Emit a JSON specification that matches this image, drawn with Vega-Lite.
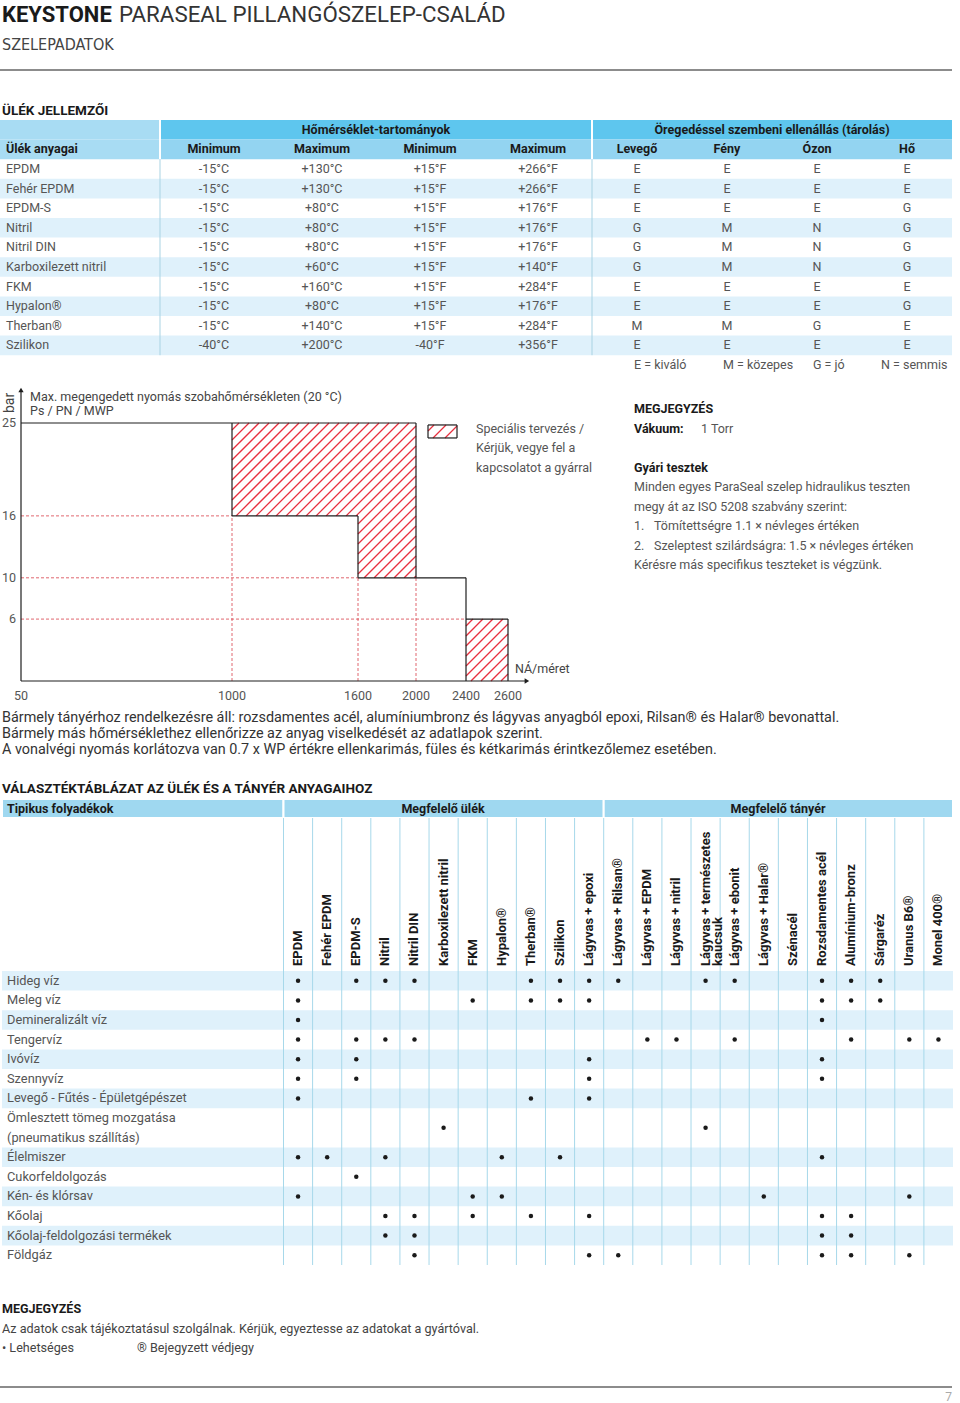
{
"$schema": "https://vega.github.io/schema/vega-lite/v6.json",
"width": 960, "height": 1403, "padding": 0, "autosize": {"type": "none"},
"background": "#ffffff",
"config": {"view": {"stroke": null}, "text": {"font": "Roboto"}},
"resolve": {"scale": {"x": "independent", "y": "independent", "color": "independent", "shape": "independent"}},
"datasets": {
 "title": [{"line":1,"tab":0,"t":"KEYSTONE"},{"line":1,"tab":1,"t":"PARASEAL PILLANGÓSZELEP-CSALÁD"},{"line":2,"tab":0,"t":"SZELEPADATOK"}],
 "pageRules": [{"pos":"top"},{"pos":"bottom"}],
 "headings": [{"h":"ÜLÉK JELLEMZŐI"},{"h":"VÁLASZTÉKTÁBLÁZAT AZ ÜLÉK ÉS A TÁNYÉR ANYAGAIHOZ"}],
 "t1": [
  {"m":"EPDM","tminC":"-15°C","tmaxC":"+130°C","tminF":"+15°F","tmaxF":"+266°F","air":"E","light":"E","ozone":"E","heat":"E"},
  {"m":"Fehér EPDM","tminC":"-15°C","tmaxC":"+130°C","tminF":"+15°F","tmaxF":"+266°F","air":"E","light":"E","ozone":"E","heat":"E"},
  {"m":"EPDM-S","tminC":"-15°C","tmaxC":"+80°C","tminF":"+15°F","tmaxF":"+176°F","air":"E","light":"E","ozone":"E","heat":"G"},
  {"m":"Nitril","tminC":"-15°C","tmaxC":"+80°C","tminF":"+15°F","tmaxF":"+176°F","air":"G","light":"M","ozone":"N","heat":"G"},
  {"m":"Nitril DIN","tminC":"-15°C","tmaxC":"+80°C","tminF":"+15°F","tmaxF":"+176°F","air":"G","light":"M","ozone":"N","heat":"G"},
  {"m":"Karboxilezett nitril","tminC":"-15°C","tmaxC":"+60°C","tminF":"+15°F","tmaxF":"+140°F","air":"G","light":"M","ozone":"N","heat":"G"},
  {"m":"FKM","tminC":"-15°C","tmaxC":"+160°C","tminF":"+15°F","tmaxF":"+284°F","air":"E","light":"E","ozone":"E","heat":"E"},
  {"m":"Hypalon®","tminC":"-15°C","tmaxC":"+80°C","tminF":"+15°F","tmaxF":"+176°F","air":"E","light":"E","ozone":"E","heat":"G"},
  {"m":"Therban®","tminC":"-15°C","tmaxC":"+140°C","tminF":"+15°F","tmaxF":"+284°F","air":"M","light":"M","ozone":"G","heat":"E"},
  {"m":"Szilikon","tminC":"-40°C","tmaxC":"+200°C","tminF":"-40°F","tmaxF":"+356°F","air":"E","light":"E","ozone":"E","heat":"E"}
 ],
 "t1cells": [{"row":"h1","c0":0,"c1":1,"part":"name"},{"row":"h2","c0":0,"c1":1,"part":"name"},{"row":"h1","c0":1,"c1":9,"part":"group"},{"row":"h2","c0":1,"c1":9,"part":"cols"}],
 "t1seps": [{"b":1},{"b":5}],
 "t1groups": [{"g":"temp","label":"Hőmérséklet-tartományok"},{"g":"aging","label":"Öregedéssel szembeni ellenállás (tárolás)"}],
 "t1h2": [{"col":"name","label":"Ülék anyagai"},{"col":"tminC","label":"Minimum"},{"col":"tmaxC","label":"Maximum"},{"col":"tminF","label":"Minimum"},{"col":"tmaxF","label":"Maximum"},{"col":"air","label":"Levegő"},{"col":"light","label":"Fény"},{"col":"ozone","label":"Ózon"},{"col":"heat","label":"Hő"}],
 "t1legend": [{"k":1,"t":"E = kiváló"},{"k":2,"t":"M = közepes"},{"k":3,"t":"G = jó"},{"k":4,"t":"N = semmis"}],
 "hatch": [
  {"x":1000,"y":24.32,"x2":1033.3,"y2":25},{"x":1000,"y":23.35,"x2":1081.0,"y2":25},
  {"x":1000,"y":22.38,"x2":1128.6,"y2":25},{"x":1000,"y":21.41,"x2":1176.2,"y2":25},
  {"x":1000,"y":20.45,"x2":1223.8,"y2":25},{"x":1000,"y":19.48,"x2":1271.4,"y2":25},
  {"x":1000,"y":18.51,"x2":1319.0,"y2":25},{"x":1000,"y":17.54,"x2":1366.7,"y2":25},
  {"x":1000,"y":16.57,"x2":1414.3,"y2":25},{"x":1019.5,"y":16,"x2":1461.9,"y2":25},
  {"x":1067.1,"y":16,"x2":1509.5,"y2":25},{"x":1114.8,"y":16,"x2":1557.1,"y2":25},
  {"x":1162.4,"y":16,"x2":1606.9,"y2":25},{"x":1210.0,"y":16,"x2":1675.9,"y2":25},
  {"x":1257.6,"y":16,"x2":1744.8,"y2":25},{"x":1305.2,"y":16,"x2":1813.8,"y2":25},
  {"x":1352.9,"y":16,"x2":1882.8,"y2":25},{"x":1400.5,"y":16,"x2":1951.7,"y2":25},
  {"x":1448.1,"y":16,"x2":2000,"y2":24.71},{"x":1495.7,"y":16,"x2":2000,"y2":23.74},
  {"x":1543.3,"y":16,"x2":2000,"y2":22.77},{"x":1591.0,"y":16,"x2":2000,"y2":21.80},
  {"x":1600,"y":15.21,"x2":2000,"y2":20.83},{"x":1600,"y":14.24,"x2":2000,"y2":19.86},
  {"x":1600,"y":13.28,"x2":2000,"y2":18.90},{"x":1600,"y":12.31,"x2":2000,"y2":17.93},
  {"x":1600,"y":11.34,"x2":2000,"y2":16.96},{"x":1600,"y":10.37,"x2":2000,"y2":15.99},
  {"x":1642.8,"y":10,"x2":2000,"y2":15.02},{"x":1711.7,"y":10,"x2":2000,"y2":14.05},
  {"x":1780.7,"y":10,"x2":2000,"y2":13.08},{"x":1849.7,"y":10,"x2":2000,"y2":12.11},
  {"x":1918.6,"y":10,"x2":2000,"y2":11.14},{"x":1987.6,"y":10,"x2":2000,"y2":10.17},
  {"x":2400,"y":5.33,"x2":2432.9,"y2":6},{"x":2400,"y":4.36,"x2":2480.5,"y2":6},
  {"x":2400,"y":3.39,"x2":2528.1,"y2":6},{"x":2400,"y":2.42,"x2":2575.7,"y2":6},
  {"x":2400,"y":1.45,"x2":2600,"y2":5.52},{"x":2400,"y":0.48,"x2":2600,"y2":4.55},
  {"x":2423.8,"y":0,"x2":2600,"y2":3.59},{"x":2471.4,"y":0,"x2":2600,"y2":2.62},
  {"x":2519.0,"y":0,"x2":2600,"y2":1.65},{"x":2566.7,"y":0,"x2":2600,"y2":0.68},
  {"x":2096,"y":24.22,"x2":2144,"y2":24.81},{"x":2136,"y":23.55,"x2":2240,"y2":24.81},
  {"x":2232,"y":23.55,"x2":2328,"y2":24.71}
 ],
 "guides": [
  {"x":50,"y":16,"x2":1000,"y2":16},{"x":50,"y":10,"x2":1600,"y2":10},
  {"x":50,"y":6,"x2":2400,"y2":6},{"x":1000,"y":0,"x2":1000,"y2":16},
  {"x":1600,"y":0,"x2":1600,"y2":10},{"x":2000,"y":0,"x2":2000,"y2":10}
 ],
 "outline": [
  {"x":50,"y":0,"x2":50,"y2":28},{"x":50,"y":0,"x2":2690,"y2":0},
  {"x":50,"y":25,"x2":2000,"y2":25},{"x":2000,"y":10,"x2":2000,"y2":25},
  {"x":2000,"y":10,"x2":2400,"y2":10},{"x":2400,"y":0,"x2":2400,"y2":10},
  {"x":2400,"y":6,"x2":2600,"y2":6},{"x":2600,"y":0,"x2":2600,"y2":6},
  {"x":1000,"y":16,"x2":1000,"y2":25},{"x":1000,"y":16,"x2":1600,"y2":16},
  {"x":1600,"y":10,"x2":1600,"y2":16},{"x":1600,"y":10,"x2":2000,"y2":10},
  {"x":2096,"y":23.55,"x2":2328,"y2":23.55},{"x":2096,"y":24.81,"x2":2328,"y2":24.81},
  {"x":2096,"y":23.55,"x2":2096,"y2":24.81},{"x":2328,"y":23.55,"x2":2328,"y2":24.81}
 ],
 "arrows": [{"x":50,"y":28.2,"dir":"up"},{"x":2690,"y":0,"dir":"right"}],
 "yticks": [{"v":25},{"v":16},{"v":10},{"v":6}],
 "xticks": [{"v":50},{"v":1000},{"v":1600},{"v":2000},{"v":2400},{"v":2600}],
 "chartNotes": [{"x":90.5,"y":27.52,"t":"Max. megengedett nyomás szobahőmérsékleten (20 °C)"},{"x":90.5,"y":26.16,"t":"Ps / PN / MWP"},{"x":2633,"y":1.16,"t":"NÁ/méret"}],
 "barLabel": [{"t":"bar"}],
 "notesBold": [{"line":1,"tab":0,"t":"MEGJEGYZÉS"},{"line":2,"tab":0,"t":"Vákuum:"},{"line":4,"tab":0,"t":"Gyári tesztek"}],
 "notesText": [{"line":2,"tab":-1,"t":"Speciális tervezés /"},{"line":3,"tab":-1,"t":"Kérjük, vegye fel a"},{"line":4,"tab":-1,"t":"kapcsolatot a gyárral"},{"line":2,"tab":2,"t":"1 Torr"},{"line":5,"tab":0,"t":"Minden egyes ParaSeal szelep hidraulikus teszten"},{"line":6,"tab":0,"t":"megy át az ISO 5208 szabvány szerint:"},{"line":7,"tab":0,"t":"1."},{"line":7,"tab":1,"t":"Tömítettségre 1.1 × névleges értéken"},{"line":8,"tab":0,"t":"2."},{"line":8,"tab":1,"t":"Szeleptest szilárdságra: 1.5 × névleges értéken"},{"line":9,"tab":0,"t":"Kérésre más specifikus teszteket is végzünk."}],
 "para": [{"line":1,"t":"Bármely tányérhoz rendelkezésre áll: rozsdamentes acél, alumíniumbronz és lágyvas anyagból epoxi, Rilsan® és Halar® bevonattal."},{"line":2,"t":"Bármely más hőmérséklethez ellenőrizze az anyag viselkedését az adatlapok szerint."},{"line":3,"t":"A vonalvégi nyomás korlátozva van 0.7 x WP értékre ellenkarimás, füles és kétkarimás érintkezőlemez esetében."}],
 "t2groups": [{"label":"Tipikus folyadékok","c0":0,"c1":1},{"label":"Megfelelő ülék","c0":1,"c1":12},{"label":"Megfelelő tányér","c0":12,"c1":24}],
 "t2cols": [{"c":"EPDM","lab":"EPDM"},{"c":"Fehér EPDM","lab":"Fehér EPDM"},{"c":"EPDM-S","lab":"EPDM-S"},{"c":"Nitril","lab":"Nitril"},{"c":"Nitril DIN","lab":"Nitril DIN"},{"c":"Karboxilezett nitril","lab":"Karboxilezett nitril"},{"c":"FKM","lab":"FKM"},{"c":"Hypalon®","lab":"Hypalon®"},{"c":"Therban®","lab":"Therban®"},{"c":"Szilikon","lab":"Szilikon"},{"c":"Lágyvas + epoxi","lab":"Lágyvas + epoxi"},{"c":"Lágyvas + Rilsan®","lab":"Lágyvas + Rilsan®"},{"c":"Lágyvas + EPDM","lab":"Lágyvas + EPDM"},{"c":"Lágyvas + nitril","lab":"Lágyvas + nitril"},{"c":"Lágyvas + természetes kaucsuk","lab":["Lágyvas + természetes","kaucsuk"]},{"c":"Lágyvas + ebonit","lab":"Lágyvas + ebonit"},{"c":"Lágyvas + Halar®","lab":"Lágyvas + Halar®"},{"c":"Szénacél","lab":"Szénacél"},{"c":"Rozsdamentes acél","lab":"Rozsdamentes acél"},{"c":"Alumínium-bronz","lab":"Alumínium-bronz"},{"c":"Sárgaréz","lab":"Sárgaréz"},{"c":"Uranus B6®","lab":"Uranus B6®"},{"c":"Monel 400®","lab":"Monel 400®"}],
 "t2rows": [{"slot":"Hideg víz"},{"slot":"Meleg víz"},{"slot":"Demineralizált víz"},{"slot":"Tengervíz"},{"slot":"Ivóvíz"},{"slot":"Szennyvíz"},{"slot":"Levegő - Fűtés - Épületgépészet"},{"slot":"Ömlesztett tömeg mozgatása"},{"slot":"(pneumatikus szállítás)"},{"slot":"Élelmiszer"},{"slot":"Cukorfeldolgozás"},{"slot":"Kén- és klórsav"},{"slot":"Kőolaj"},{"slot":"Kőolaj-feldolgozási termékek"},{"slot":"Földgáz"}],
 "t2dots": [
  {"f":"Hideg víz","c":"EPDM"},{"f":"Hideg víz","c":"EPDM-S"},{"f":"Hideg víz","c":"Nitril"},{"f":"Hideg víz","c":"Nitril DIN"},{"f":"Hideg víz","c":"Therban®"},{"f":"Hideg víz","c":"Szilikon"},{"f":"Hideg víz","c":"Lágyvas + epoxi"},{"f":"Hideg víz","c":"Lágyvas + Rilsan®"},{"f":"Hideg víz","c":"Lágyvas + természetes kaucsuk"},{"f":"Hideg víz","c":"Lágyvas + ebonit"},{"f":"Hideg víz","c":"Rozsdamentes acél"},{"f":"Hideg víz","c":"Alumínium-bronz"},{"f":"Hideg víz","c":"Sárgaréz"},
  {"f":"Meleg víz","c":"EPDM"},{"f":"Meleg víz","c":"FKM"},{"f":"Meleg víz","c":"Therban®"},{"f":"Meleg víz","c":"Szilikon"},{"f":"Meleg víz","c":"Lágyvas + epoxi"},{"f":"Meleg víz","c":"Rozsdamentes acél"},{"f":"Meleg víz","c":"Alumínium-bronz"},{"f":"Meleg víz","c":"Sárgaréz"},
  {"f":"Demineralizált víz","c":"EPDM"},{"f":"Demineralizált víz","c":"Rozsdamentes acél"},
  {"f":"Tengervíz","c":"EPDM"},{"f":"Tengervíz","c":"EPDM-S"},{"f":"Tengervíz","c":"Nitril"},{"f":"Tengervíz","c":"Nitril DIN"},{"f":"Tengervíz","c":"Lágyvas + EPDM"},{"f":"Tengervíz","c":"Lágyvas + nitril"},{"f":"Tengervíz","c":"Lágyvas + ebonit"},{"f":"Tengervíz","c":"Alumínium-bronz"},{"f":"Tengervíz","c":"Uranus B6®"},{"f":"Tengervíz","c":"Monel 400®"},
  {"f":"Ivóvíz","c":"EPDM"},{"f":"Ivóvíz","c":"EPDM-S"},{"f":"Ivóvíz","c":"Lágyvas + epoxi"},{"f":"Ivóvíz","c":"Rozsdamentes acél"},
  {"f":"Szennyvíz","c":"EPDM"},{"f":"Szennyvíz","c":"EPDM-S"},{"f":"Szennyvíz","c":"Lágyvas + epoxi"},{"f":"Szennyvíz","c":"Rozsdamentes acél"},
  {"f":"Levegő - Fűtés - Épületgépészet","c":"EPDM"},{"f":"Levegő - Fűtés - Épületgépészet","c":"Therban®"},{"f":"Levegő - Fűtés - Épületgépészet","c":"Lágyvas + epoxi"},
  {"f":"Ömlesztett tömeg mozgatása","c":"Karboxilezett nitril"},{"f":"Ömlesztett tömeg mozgatása","c":"Lágyvas + természetes kaucsuk"},
  {"f":"Élelmiszer","c":"EPDM"},{"f":"Élelmiszer","c":"Fehér EPDM"},{"f":"Élelmiszer","c":"Nitril"},{"f":"Élelmiszer","c":"Hypalon®"},{"f":"Élelmiszer","c":"Szilikon"},{"f":"Élelmiszer","c":"Rozsdamentes acél"},
  {"f":"Cukorfeldolgozás","c":"EPDM-S"},
  {"f":"Kén- és klórsav","c":"EPDM"},{"f":"Kén- és klórsav","c":"FKM"},{"f":"Kén- és klórsav","c":"Hypalon®"},{"f":"Kén- és klórsav","c":"Lágyvas + Halar®"},{"f":"Kén- és klórsav","c":"Uranus B6®"},
  {"f":"Kőolaj","c":"Nitril"},{"f":"Kőolaj","c":"Nitril DIN"},{"f":"Kőolaj","c":"FKM"},{"f":"Kőolaj","c":"Therban®"},{"f":"Kőolaj","c":"Lágyvas + epoxi"},{"f":"Kőolaj","c":"Rozsdamentes acél"},{"f":"Kőolaj","c":"Alumínium-bronz"},
  {"f":"Kőolaj-feldolgozási termékek","c":"Nitril"},{"f":"Kőolaj-feldolgozási termékek","c":"Nitril DIN"},{"f":"Kőolaj-feldolgozási termékek","c":"Rozsdamentes acél"},{"f":"Kőolaj-feldolgozási termékek","c":"Alumínium-bronz"},
  {"f":"Földgáz","c":"Nitril DIN"},{"f":"Földgáz","c":"Lágyvas + epoxi"},{"f":"Földgáz","c":"Lágyvas + Rilsan®"},{"f":"Földgáz","c":"Rozsdamentes acél"},{"f":"Földgáz","c":"Alumínium-bronz"},{"f":"Földgáz","c":"Uranus B6®"}
 ],
 "footer": [{"line":1,"tab":0,"t":"MEGJEGYZÉS"},{"line":2,"tab":0,"t":"Az adatok csak tájékoztatásul szolgálnak. Kérjük, egyeztesse az adatokat a gyártóval."},{"line":3,"tab":0,"t":"• Lehetséges"},{"line":3,"tab":1,"t":"® Bejegyzett védjegy"}],
 "pageNo": [{"p":"7"}]
},
"layer": [
 {"data":{"name":"t1"},"transform":[{"filter":{"field":"m","oneOf":["Fehér EPDM","Nitril","Karboxilezett nitril","Hypalon®","Szilikon"]}}],
  "mark":{"type":"rect","color":"#dff1fb"},
  "encoding":{"x":{"datum":0,"type":"quantitative","scale":{"type":"linear","domain":[0,1,5,9],"range":[0,160,592,952],"zero":false,"nice":false},"axis":null},"x2":{"datum":9},
   "y":{"field":"m","type":"nominal","scale":{"type":"band","domain":["h1","h2","EPDM","Fehér EPDM","EPDM-S","Nitril","Nitril DIN","Karboxilezett nitril","FKM","Hypalon®","Therban®","Szilikon","legend"],"range":[120,374.8],"paddingInner":0,"paddingOuter":0},"axis":null}}},
 {"data":{"name":"t1cells"},"mark":{"type":"rect"},
  "encoding":{"x":{"field":"c0","type":"quantitative","scale":{"type":"linear","domain":[0,1,5,9],"range":[0,160,592,952],"zero":false,"nice":false},"axis":null},"x2":{"field":"c1"},
   "y":{"field":"row","type":"nominal","scale":{"type":"band","domain":["h1","h2","EPDM","Fehér EPDM","EPDM-S","Nitril","Nitril DIN","Karboxilezett nitril","FKM","Hypalon®","Therban®","Szilikon","legend"],"range":[120,374.8],"paddingInner":0,"paddingOuter":0},"axis":null},
   "color":{"field":"part","type":"nominal","scale":{"domain":["name","group","cols"],"range":["#a8dcf3","#5ec6ee","#93d4f1"]},"legend":null}}},
 {"data":{"name":"t1seps"},"mark":{"type":"rule","color":"#ffffff","strokeWidth":2},
  "encoding":{"x":{"field":"b","type":"quantitative","scale":{"type":"linear","domain":[0,1,5,9],"range":[0,160,592,952],"zero":false,"nice":false},"axis":null},
   "y":{"datum":0,"type":"quantitative","scale":{"type":"linear","domain":[0,13],"range":[120,374.8],"zero":false,"nice":false},"axis":null},"y2":{"datum":2}}},
 {"data":{"name":"t1seps"},"mark":{"type":"rule","color":"#a9d3e3","strokeWidth":1},
  "encoding":{"x":{"field":"b","type":"quantitative","scale":{"type":"linear","domain":[0,1,5,9],"range":[0,160,592,952],"zero":false,"nice":false},"axis":null},
   "y":{"datum":2,"type":"quantitative","scale":{"type":"linear","domain":[0,13],"range":[120,374.8],"zero":false,"nice":false},"axis":null},"y2":{"datum":12}}},
 {"data":{"name":"t1groups"},"mark":{"type":"text","font":"Roboto","fontWeight":"bold","fontSize":12.5,"color":"#1a1a1a","baseline":"middle"},
  "encoding":{"x":{"field":"g","type":"nominal","scale":{"type":"point","domain":["temp","aging"],"range":[376,772],"padding":0},"axis":null},
   "y":{"datum":"h1","type":"nominal","scale":{"type":"band","domain":["h1","h2","EPDM","Fehér EPDM","EPDM-S","Nitril","Nitril DIN","Karboxilezett nitril","FKM","Hypalon®","Therban®","Szilikon","legend"],"range":[120,374.8],"paddingInner":0,"paddingOuter":0},"axis":null},
   "text":{"field":"label"}}},
 {"data":{"name":"t1h2"},"transform":[{"filter":{"field":"col","oneOf":["tminC","tmaxC","tminF","tmaxF"]}}],
  "mark":{"type":"text","font":"Roboto","fontWeight":"bold","fontSize":12.5,"color":"#1a1a1a","baseline":"middle"},
  "encoding":{"x":{"field":"col","type":"nominal","scale":{"type":"band","domain":["tminC","tmaxC","tminF","tmaxF"],"range":[160,592],"paddingInner":0,"paddingOuter":0},"axis":null},
   "y":{"datum":"h2","type":"nominal","scale":{"type":"band","domain":["h1","h2","EPDM","Fehér EPDM","EPDM-S","Nitril","Nitril DIN","Karboxilezett nitril","FKM","Hypalon®","Therban®","Szilikon","legend"],"range":[120,374.8],"paddingInner":0,"paddingOuter":0},"axis":null},
   "text":{"field":"label"}}},
 {"data":{"name":"t1h2"},"transform":[{"filter":{"field":"col","oneOf":["air","light","ozone","heat"]}}],
  "mark":{"type":"text","font":"Roboto","fontWeight":"bold","fontSize":12.5,"color":"#1a1a1a","baseline":"middle"},
  "encoding":{"x":{"field":"col","type":"nominal","scale":{"type":"band","domain":["air","light","ozone","heat"],"range":[592,952],"paddingInner":0,"paddingOuter":0},"axis":null},
   "y":{"datum":"h2","type":"nominal","scale":{"type":"band","domain":["h1","h2","EPDM","Fehér EPDM","EPDM-S","Nitril","Nitril DIN","Karboxilezett nitril","FKM","Hypalon®","Therban®","Szilikon","legend"],"range":[120,374.8],"paddingInner":0,"paddingOuter":0},"axis":null},
   "text":{"field":"label"}}},
 {"data":{"name":"t1h2"},"transform":[{"filter":{"field":"col","equal":"name"}}],
  "mark":{"type":"text","font":"Roboto","fontWeight":"bold","fontSize":12.5,"color":"#1a1a1a","baseline":"middle","align":"left","dx":6},
  "encoding":{"x":{"datum":0,"type":"quantitative","scale":{"type":"linear","domain":[0,1,5,9],"range":[0,160,592,952],"zero":false,"nice":false},"axis":null},
   "y":{"datum":"h2","type":"nominal","scale":{"type":"band","domain":["h1","h2","EPDM","Fehér EPDM","EPDM-S","Nitril","Nitril DIN","Karboxilezett nitril","FKM","Hypalon®","Therban®","Szilikon","legend"],"range":[120,374.8],"paddingInner":0,"paddingOuter":0},"axis":null},
   "text":{"field":"label"}}},
 {"data":{"name":"t1"},
  "mark":{"type":"text","font":"Roboto","fontSize":12.5,"color":"#555555","baseline":"middle","align":"left","dx":6},
  "encoding":{"x":{"datum":0,"type":"quantitative","scale":{"type":"linear","domain":[0,1,5,9],"range":[0,160,592,952],"zero":false,"nice":false},"axis":null},
   "y":{"field":"m","type":"nominal","scale":{"type":"band","domain":["h1","h2","EPDM","Fehér EPDM","EPDM-S","Nitril","Nitril DIN","Karboxilezett nitril","FKM","Hypalon®","Therban®","Szilikon","legend"],"range":[120,374.8],"paddingInner":0,"paddingOuter":0},"axis":null},
   "text":{"field":"m"}}},
 {"data":{"name":"t1"},"transform":[{"fold":["tminC","tmaxC","tminF","tmaxF"],"as":["col","v"]}],
  "mark":{"type":"text","font":"Roboto","fontSize":12.5,"color":"#555555","baseline":"middle"},
  "encoding":{"x":{"field":"col","type":"nominal","scale":{"type":"band","domain":["tminC","tmaxC","tminF","tmaxF"],"range":[160,592],"paddingInner":0,"paddingOuter":0},"axis":null},
   "y":{"field":"m","type":"nominal","scale":{"type":"band","domain":["h1","h2","EPDM","Fehér EPDM","EPDM-S","Nitril","Nitril DIN","Karboxilezett nitril","FKM","Hypalon®","Therban®","Szilikon","legend"],"range":[120,374.8],"paddingInner":0,"paddingOuter":0},"axis":null},
   "text":{"field":"v"}}},
 {"data":{"name":"t1"},"transform":[{"fold":["air","light","ozone","heat"],"as":["col","v"]}],
  "mark":{"type":"text","font":"Roboto","fontSize":12.5,"color":"#555555","baseline":"middle"},
  "encoding":{"x":{"field":"col","type":"nominal","scale":{"type":"band","domain":["air","light","ozone","heat"],"range":[592,952],"paddingInner":0,"paddingOuter":0},"axis":null},
   "y":{"field":"m","type":"nominal","scale":{"type":"band","domain":["h1","h2","EPDM","Fehér EPDM","EPDM-S","Nitril","Nitril DIN","Karboxilezett nitril","FKM","Hypalon®","Therban®","Szilikon","legend"],"range":[120,374.8],"paddingInner":0,"paddingOuter":0},"axis":null},
   "text":{"field":"v"}}},
 {"data":{"name":"t1legend"},
  "mark":{"type":"text","font":"Roboto","fontSize":12.5,"color":"#555555","baseline":"middle","align":"left"},
  "encoding":{"x":{"field":"k","type":"quantitative","scale":{"type":"linear","domain":[1,2,3,4],"range":[634,723,813,881],"zero":false,"nice":false},"axis":null},
   "y":{"datum":"legend","type":"nominal","scale":{"type":"band","domain":["h1","h2","EPDM","Fehér EPDM","EPDM-S","Nitril","Nitril DIN","Karboxilezett nitril","FKM","Hypalon®","Therban®","Szilikon","legend"],"range":[120,374.8],"paddingInner":0,"paddingOuter":0},"axis":null},
   "text":{"field":"t"}}},
 {"data":{"name":"title"},"transform":[{"filter":"datum.line == 1 && datum.tab == 0"}],
  "mark":{"type":"text","font":"Roboto","fontWeight":"bold","fontSize":22,"color":"#1a1a1a","baseline":"middle","align":"left"},
  "encoding":{"x":{"field":"tab","type":"quantitative","scale":{"type":"linear","domain":[0,1],"range":[2,119],"zero":false,"nice":false},"axis":null},
   "y":{"field":"line","type":"quantitative","scale":{"type":"linear","domain":[1,2],"range":[15,45],"zero":false,"nice":false},"axis":null},"text":{"field":"t"}}},
 {"data":{"name":"title"},"transform":[{"filter":"datum.line == 1 && datum.tab == 1"}],
  "mark":{"type":"text","font":"Roboto","fontSize":22.3,"color":"#333333","baseline":"middle","align":"left"},
  "encoding":{"x":{"field":"tab","type":"quantitative","scale":{"type":"linear","domain":[0,1],"range":[2,119],"zero":false,"nice":false},"axis":null},
   "y":{"field":"line","type":"quantitative","scale":{"type":"linear","domain":[1,2],"range":[15,45],"zero":false,"nice":false},"axis":null},"text":{"field":"t"}}},
 {"data":{"name":"title"},"transform":[{"filter":"datum.line == 2"}],
  "mark":{"type":"text","font":"DejaVu Sans Condensed, Liberation Sans Narrow, Roboto","fontSize":16,"color":"#444444","baseline":"middle","align":"left"},
  "encoding":{"x":{"field":"tab","type":"quantitative","scale":{"type":"linear","domain":[0,1],"range":[2,119],"zero":false,"nice":false},"axis":null},
   "y":{"field":"line","type":"quantitative","scale":{"type":"linear","domain":[1,2],"range":[15,45],"zero":false,"nice":false},"axis":null},"text":{"field":"t"}}},
 {"data":{"name":"pageRules"},"mark":{"type":"rule","color":"#8c8c8c","strokeWidth":2},
  "encoding":{"y":{"field":"pos","type":"nominal","scale":{"type":"point","domain":["top","bottom"],"range":[70,1387],"padding":0},"axis":null},
   "x":{"datum":0,"type":"quantitative","scale":{"type":"linear","domain":[0,1],"range":[0,952],"zero":false,"nice":false},"axis":null},"x2":{"datum":1}}},
 {"data":{"name":"headings"},"mark":{"type":"text","font":"Roboto","fontWeight":"bold","fontSize":13.5,"color":"#1a1a1a","baseline":"middle","align":"left"},
  "encoding":{"y":{"field":"h","type":"nominal","scale":{"type":"point","domain":["ÜLÉK JELLEMZŐI","VÁLASZTÉKTÁBLÁZAT AZ ÜLÉK ÉS A TÁNYÉR ANYAGAIHOZ"],"range":[111,789],"padding":0},"axis":null},
   "x":{"datum":0,"type":"quantitative","scale":{"type":"linear","domain":[0,1],"range":[2,3],"zero":false,"nice":false},"axis":null},"text":{"field":"h"}}},
 {"data":{"name":"hatch"},
  "mark":{"type":"rule","stroke":"#e8303f","strokeWidth":1.3,"strokeOpacity":1},
  "encoding":{"x":{"field":"x","type":"quantitative","scale":{"type":"linear","domain":[50,1000,1600,2000,2400,2600],"range":[21,232,358,416,466,508],"zero":false,"nice":false},"axis":null},"x2":{"field":"x2"},
   "y":{"field":"y","type":"quantitative","scale":{"type":"linear","domain":[0,25],"range":[681,423],"zero":false,"nice":false},"axis":null},"y2":{"field":"y2"}}},
 {"data":{"name":"guides"},
  "mark":{"type":"rule","color":"#d8404a","strokeWidth":0.8,"strokeDash":[3,2]},
  "encoding":{"x":{"field":"x","type":"quantitative","scale":{"type":"linear","domain":[50,1000,1600,2000,2400,2600],"range":[21,232,358,416,466,508],"zero":false,"nice":false},"axis":null},"x2":{"field":"x2"},
   "y":{"field":"y","type":"quantitative","scale":{"type":"linear","domain":[0,25],"range":[681,423],"zero":false,"nice":false},"axis":null},"y2":{"field":"y2"}}},
 {"data":{"name":"outline"},
  "mark":{"type":"rule","color":"#1e1e1e","strokeWidth":1.2},
  "encoding":{"x":{"field":"x","type":"quantitative","scale":{"type":"linear","domain":[50,1000,1600,2000,2400,2600],"range":[21,232,358,416,466,508],"zero":false,"nice":false},"axis":null},"x2":{"field":"x2"},
   "y":{"field":"y","type":"quantitative","scale":{"type":"linear","domain":[0,25],"range":[681,423],"zero":false,"nice":false},"axis":null},"y2":{"field":"y2"}}},
 {"data":{"name":"arrows"},"mark":{"type":"point","filled":true,"size":28,"color":"#1e1e1e","opacity":1},
  "encoding":{"x":{"field":"x","type":"quantitative","scale":{"type":"linear","domain":[50,1000,1600,2000,2400,2600],"range":[21,232,358,416,466,508],"zero":false,"nice":false},"axis":null},
   "y":{"field":"y","type":"quantitative","scale":{"type":"linear","domain":[0,25],"range":[681,423],"zero":false,"nice":false},"axis":null},
   "shape":{"field":"dir","type":"nominal","scale":{"domain":["up","right"],"range":["triangle-up","triangle-right"]},"legend":null}}},
 {"data":{"name":"yticks"},"mark":{"type":"text","font":"Roboto","fontSize":12.5,"color":"#555555","baseline":"middle","align":"right","dx":-5},
  "encoding":{"x":{"datum":50,"type":"quantitative","scale":{"type":"linear","domain":[50,1000,1600,2000,2400,2600],"range":[21,232,358,416,466,508],"zero":false,"nice":false},"axis":null},
   "y":{"field":"v","type":"quantitative","scale":{"type":"linear","domain":[0,25],"range":[681,423],"zero":false,"nice":false},"axis":null},"text":{"field":"v","type":"quantitative","format":"d"}}},
 {"data":{"name":"xticks"},"mark":{"type":"text","font":"Roboto","fontSize":12.5,"color":"#555555","baseline":"middle","align":"center","dy":15},
  "encoding":{"x":{"field":"v","type":"quantitative","scale":{"type":"linear","domain":[50,1000,1600,2000,2400,2600],"range":[21,232,358,416,466,508],"zero":false,"nice":false},"axis":null},
   "y":{"datum":0,"type":"quantitative","scale":{"type":"linear","domain":[0,25],"range":[681,423],"zero":false,"nice":false},"axis":null},"text":{"field":"v","type":"quantitative","format":"d"}}},
 {"data":{"name":"chartNotes"},"mark":{"type":"text","font":"Roboto","fontSize":12.5,"color":"#444444","baseline":"middle","align":"left"},
  "encoding":{"x":{"field":"x","type":"quantitative","scale":{"type":"linear","domain":[50,1000,1600,2000,2400,2600],"range":[21,232,358,416,466,508],"zero":false,"nice":false},"axis":null},
   "y":{"field":"y","type":"quantitative","scale":{"type":"linear","domain":[0,25],"range":[681,423],"zero":false,"nice":false},"axis":null},"text":{"field":"t"}}},
 {"data":{"name":"barLabel"},"mark":{"type":"text","font":"Roboto","fontSize":14,"color":"#444444","baseline":"middle","align":"center","angle":270},
  "encoding":{"x":{"datum":0,"type":"quantitative","scale":{"type":"linear","domain":[50,1000,1600,2000,2400,2600],"range":[21,232,358,416,466,508],"zero":false,"nice":false},"axis":null},
   "y":{"datum":26.94,"type":"quantitative","scale":{"type":"linear","domain":[0,25],"range":[681,423],"zero":false,"nice":false},"axis":null},"text":{"field":"t"}}},
 {"data":{"name":"notesBold"},"mark":{"type":"text","font":"Roboto","fontWeight":"bold","fontSize":12.5,"color":"#1a1a1a","baseline":"middle","align":"left"},
  "encoding":{"x":{"field":"tab","type":"quantitative","scale":{"type":"linear","domain":[-1,0,1,2],"range":[476,634,654,701],"zero":false,"nice":false},"axis":null},
   "y":{"field":"line","type":"quantitative","scale":{"type":"linear","domain":[1,9],"range":[409,565],"zero":false,"nice":false},"axis":null},"text":{"field":"t"}}},
 {"data":{"name":"notesText"},"mark":{"type":"text","font":"Roboto","fontSize":12.5,"color":"#555555","baseline":"middle","align":"left"},
  "encoding":{"x":{"field":"tab","type":"quantitative","scale":{"type":"linear","domain":[-1,0,1,2],"range":[476,634,654,701],"zero":false,"nice":false},"axis":null},
   "y":{"field":"line","type":"quantitative","scale":{"type":"linear","domain":[1,9],"range":[409,565],"zero":false,"nice":false},"axis":null},"text":{"field":"t"}}},
 {"data":{"name":"para"},"mark":{"type":"text","font":"Roboto","fontSize":14.4,"color":"#333333","baseline":"middle","align":"left"},
  "encoding":{"x":{"datum":0,"type":"quantitative","scale":{"type":"linear","domain":[0,1],"range":[2,3],"zero":false,"nice":false},"axis":null},
   "y":{"field":"line","type":"quantitative","scale":{"type":"linear","domain":[1,3],"range":[718,750],"zero":false,"nice":false},"axis":null},"text":{"field":"t"}}},
 {"data":{"name":"t2groups"},"mark":{"type":"rect","color":"#9fd8f0","stroke":"#ffffff","strokeWidth":2},
  "encoding":{"x":{"field":"c0","type":"quantitative","scale":{"type":"linear","domain":[0,1,24],"range":[2,283.5,953],"zero":false,"nice":false},"axis":null},"x2":{"field":"c1"},
   "y":{"datum":0,"type":"quantitative","scale":{"type":"linear","domain":[0,1,2,3],"range":[799,818,966,1265],"zero":false,"nice":false},"axis":null},"y2":{"datum":1}}},
 {"data":{"name":"t2groups"},"transform":[{"filter":{"field":"label","oneOf":["Megfelelő ülék","Megfelelő tányér"]}}],
  "mark":{"type":"text","font":"Roboto","fontWeight":"bold","fontSize":12.5,"color":"#1a1a1a","baseline":"middle","align":"center"},
  "encoding":{"x":{"field":"label","type":"nominal","scale":{"type":"point","domain":["Megfelelő ülék","Megfelelő tányér"],"range":[443,778],"padding":0},"axis":null},
   "y":{"datum":0.5,"type":"quantitative","scale":{"type":"linear","domain":[0,1,2,3],"range":[799,818,966,1265],"zero":false,"nice":false},"axis":null},"text":{"field":"label"}}},
 {"data":{"name":"t2groups"},"transform":[{"filter":{"field":"label","equal":"Tipikus folyadékok"}}],
  "mark":{"type":"text","font":"Roboto","fontWeight":"bold","fontSize":12.5,"color":"#1a1a1a","baseline":"middle","align":"left","dx":5},
  "encoding":{"x":{"datum":0,"type":"quantitative","scale":{"type":"linear","domain":[0,1,24],"range":[2,283.5,953],"zero":false,"nice":false},"axis":null},
   "y":{"datum":0.5,"type":"quantitative","scale":{"type":"linear","domain":[0,1,2,3],"range":[799,818,966,1265],"zero":false,"nice":false},"axis":null},"text":{"field":"label"}}},
 {"data":{"name":"t2rows"},"transform":[{"filter":{"field":"slot","oneOf":["Hideg víz","Demineralizált víz","Ivóvíz","Levegő - Fűtés - Épületgépészet","Élelmiszer","Kén- és klórsav","Kőolaj-feldolgozási termékek"]}}],
  "mark":{"type":"rect","color":"#dff1fb"},
  "encoding":{"x":{"datum":0,"type":"quantitative","scale":{"type":"linear","domain":[0,1,24],"range":[2,283.5,953],"zero":false,"nice":false},"axis":null},"x2":{"datum":24},
   "y":{"field":"slot","type":"nominal","scale":{"type":"band","domain":["Hideg víz","Meleg víz","Demineralizált víz","Tengervíz","Ivóvíz","Szennyvíz","Levegő - Fűtés - Épületgépészet","Ömlesztett tömeg mozgatása","(pneumatikus szállítás)","Élelmiszer","Cukorfeldolgozás","Kén- és klórsav","Kőolaj","Kőolaj-feldolgozási termékek","Földgáz"],"range":[971,1265],"paddingInner":0,"paddingOuter":0},"axis":null}}},
 {"data":{"name":"t2cols"},"mark":{"type":"rule","color":"#a7d8ea","strokeWidth":1},
  "encoding":{"x":{"field":"c","type":"nominal","bandPosition":0,"scale":{"type":"band","domain":["EPDM","Fehér EPDM","EPDM-S","Nitril","Nitril DIN","Karboxilezett nitril","FKM","Hypalon®","Therban®","Szilikon","Lágyvas + epoxi","Lágyvas + Rilsan®","Lágyvas + EPDM","Lágyvas + nitril","Lágyvas + természetes kaucsuk","Lágyvas + ebonit","Lágyvas + Halar®","Szénacél","Rozsdamentes acél","Alumínium-bronz","Sárgaréz","Uranus B6®","Monel 400®"],"range":[283.5,953],"paddingInner":0,"paddingOuter":0},"axis":null},
   "y":{"datum":1,"type":"quantitative","scale":{"type":"linear","domain":[0,1,2,3],"range":[799,818,966,1265],"zero":false,"nice":false},"axis":null},"y2":{"datum":3}}},
 {"data":{"name":"t2cols"},"mark":{"type":"text","font":"Roboto","fontWeight":"bold","fontSize":13,"color":"#1a1a1a","baseline":"middle","align":"left","angle":270,"lineHeight":12},
  "encoding":{"x":{"field":"c","type":"nominal","scale":{"type":"band","domain":["EPDM","Fehér EPDM","EPDM-S","Nitril","Nitril DIN","Karboxilezett nitril","FKM","Hypalon®","Therban®","Szilikon","Lágyvas + epoxi","Lágyvas + Rilsan®","Lágyvas + EPDM","Lágyvas + nitril","Lágyvas + természetes kaucsuk","Lágyvas + ebonit","Lágyvas + Halar®","Szénacél","Rozsdamentes acél","Alumínium-bronz","Sárgaréz","Uranus B6®","Monel 400®"],"range":[283.5,953],"paddingInner":0,"paddingOuter":0},"axis":null},
   "y":{"datum":2,"type":"quantitative","scale":{"type":"linear","domain":[0,1,2,3],"range":[799,818,966,1265],"zero":false,"nice":false},"axis":null},"text":{"field":"lab"}}},
 {"data":{"name":"t2rows"},"mark":{"type":"text","font":"Roboto","fontSize":12.8,"color":"#555555","baseline":"middle","align":"left","dx":5},
  "encoding":{"x":{"datum":0,"type":"quantitative","scale":{"type":"linear","domain":[0,1,24],"range":[2,283.5,953],"zero":false,"nice":false},"axis":null},
   "y":{"field":"slot","type":"nominal","scale":{"type":"band","domain":["Hideg víz","Meleg víz","Demineralizált víz","Tengervíz","Ivóvíz","Szennyvíz","Levegő - Fűtés - Épületgépészet","Ömlesztett tömeg mozgatása","(pneumatikus szállítás)","Élelmiszer","Cukorfeldolgozás","Kén- és klórsav","Kőolaj","Kőolaj-feldolgozási termékek","Földgáz"],"range":[971,1265],"paddingInner":0,"paddingOuter":0},"axis":null},
   "text":{"field":"slot"}}},
 {"data":{"name":"t2dots"},"transform":[{"filter":{"not":{"field":"f","equal":"Ömlesztett tömeg mozgatása"}}}],
  "mark":{"type":"circle","size":20,"color":"#1a1a1a","opacity":1},
  "encoding":{"x":{"field":"c","type":"nominal","scale":{"type":"band","domain":["EPDM","Fehér EPDM","EPDM-S","Nitril","Nitril DIN","Karboxilezett nitril","FKM","Hypalon®","Therban®","Szilikon","Lágyvas + epoxi","Lágyvas + Rilsan®","Lágyvas + EPDM","Lágyvas + nitril","Lágyvas + természetes kaucsuk","Lágyvas + ebonit","Lágyvas + Halar®","Szénacél","Rozsdamentes acél","Alumínium-bronz","Sárgaréz","Uranus B6®","Monel 400®"],"range":[283.5,953],"paddingInner":0,"paddingOuter":0},"axis":null},
   "y":{"field":"f","type":"nominal","scale":{"type":"band","domain":["Hideg víz","Meleg víz","Demineralizált víz","Tengervíz","Ivóvíz","Szennyvíz","Levegő - Fűtés - Épületgépészet","Ömlesztett tömeg mozgatása","(pneumatikus szállítás)","Élelmiszer","Cukorfeldolgozás","Kén- és klórsav","Kőolaj","Kőolaj-feldolgozási termékek","Földgáz"],"range":[971,1265],"paddingInner":0,"paddingOuter":0},"axis":null}}},
 {"data":{"name":"t2dots"},"transform":[{"filter":{"field":"f","equal":"Ömlesztett tömeg mozgatása"}}],
  "mark":{"type":"circle","size":20,"color":"#1a1a1a","opacity":1},
  "encoding":{"x":{"field":"c","type":"nominal","scale":{"type":"band","domain":["EPDM","Fehér EPDM","EPDM-S","Nitril","Nitril DIN","Karboxilezett nitril","FKM","Hypalon®","Therban®","Szilikon","Lágyvas + epoxi","Lágyvas + Rilsan®","Lágyvas + EPDM","Lágyvas + nitril","Lágyvas + természetes kaucsuk","Lágyvas + ebonit","Lágyvas + Halar®","Szénacél","Rozsdamentes acél","Alumínium-bronz","Sárgaréz","Uranus B6®","Monel 400®"],"range":[283.5,953],"paddingInner":0,"paddingOuter":0},"axis":null},
   "y":{"field":"f","type":"nominal","bandPosition":1,"scale":{"type":"band","domain":["Hideg víz","Meleg víz","Demineralizált víz","Tengervíz","Ivóvíz","Szennyvíz","Levegő - Fűtés - Épületgépészet","Ömlesztett tömeg mozgatása","(pneumatikus szállítás)","Élelmiszer","Cukorfeldolgozás","Kén- és klórsav","Kőolaj","Kőolaj-feldolgozási termékek","Földgáz"],"range":[971,1265],"paddingInner":0,"paddingOuter":0},"axis":null}}},
 {"data":{"name":"footer"},"transform":[{"filter":"datum.line == 1"}],
  "mark":{"type":"text","font":"Roboto","fontWeight":"bold","fontSize":12.5,"color":"#1a1a1a","baseline":"middle","align":"left"},
  "encoding":{"x":{"field":"tab","type":"quantitative","scale":{"type":"linear","domain":[0,1],"range":[2,137],"zero":false,"nice":false},"axis":null},
   "y":{"field":"line","type":"quantitative","scale":{"type":"linear","domain":[1,3],"range":[1309,1348],"zero":false,"nice":false},"axis":null},"text":{"field":"t"}}},
 {"data":{"name":"footer"},"transform":[{"filter":"datum.line > 1"}],
  "mark":{"type":"text","font":"Roboto","fontSize":12.6,"color":"#444444","baseline":"middle","align":"left"},
  "encoding":{"x":{"field":"tab","type":"quantitative","scale":{"type":"linear","domain":[0,1],"range":[2,137],"zero":false,"nice":false},"axis":null},
   "y":{"field":"line","type":"quantitative","scale":{"type":"linear","domain":[1,3],"range":[1309,1348],"zero":false,"nice":false},"axis":null},"text":{"field":"t"}}},
 {"data":{"name":"pageNo"},"mark":{"type":"text","font":"Roboto","fontSize":12,"color":"#aaaaaa","baseline":"middle","align":"right"},
  "encoding":{"x":{"datum":1,"type":"quantitative","scale":{"type":"linear","domain":[0,1],"range":[0,952],"zero":false,"nice":false},"axis":null},
   "y":{"datum":0,"type":"quantitative","scale":{"type":"linear","domain":[0,1],"range":[1397,1398],"zero":false,"nice":false},"axis":null},"text":{"field":"p"}}}
]
}
